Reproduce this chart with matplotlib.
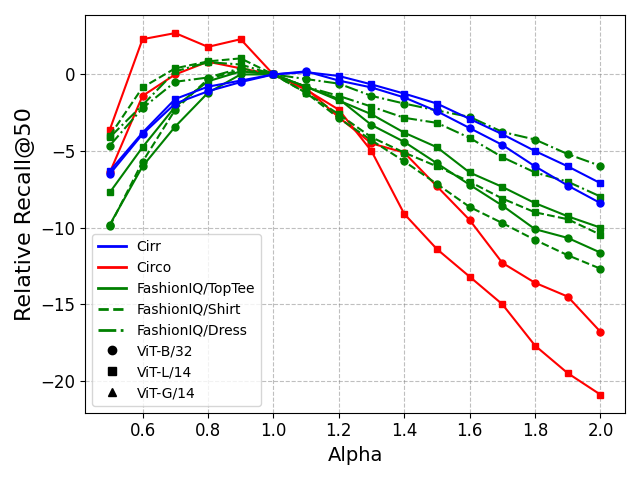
import numpy as np
import matplotlib.pyplot as plt
from matplotlib.lines import Line2D

alpha = [0.5, 0.6, 0.7, 0.8, 0.9, 1.0, 1.1, 1.2, 1.3, 1.4, 1.5, 1.6, 1.7, 1.8, 1.9, 2.0]

# relative recall@50 per dataset and backbone
cirr_b32 = [-6.5, -3.9, -1.9, -1.1, -0.5, 0.0, 0.2, -0.4, -0.85, -1.5, -2.4, -3.5, -4.6, -6.0, -7.25, -8.4]
cirr_l14 = [-6.3, -3.8, -1.6, -0.8, -0.4, 0.0, 0.15, -0.1, -0.65, -1.25, -1.9, -2.9, -3.9, -5.0, -6.0, -7.1]
circo_b32 = [-6.4, -1.4, 0.0, 0.83, 0.4, 0.0, -0.9, -2.8, -4.5, -5.1, -7.3, -9.5, -12.3, -13.6, -14.5, -16.8]
circo_l14 = [-3.6, 2.3, 2.7, 1.8, 2.3, 0.0, -1.0, -2.3, -5.0, -9.1, -11.4, -13.2, -15.0, -17.7, -19.5, -20.9]
toptee_b32 = [-9.8, -6.0, -3.4, -1.2, 0.0, 0.0, -0.8, -1.6, -3.3, -4.4, -5.8, -7.2, -8.56, -10.1, -10.67, -11.63]
toptee_l14 = [-7.7, -4.75, -2.1, -0.45, 0.2, 0.0, -0.8, -1.7, -2.6, -3.8, -4.75, -6.4, -7.34, -8.4, -9.26, -10.0]
shirt_b32 = [-9.9, -5.7, -2.3, -0.3, 0.3, 0.0, -1.2, -2.85, -4.3, -5.67, -7.15, -8.65, -9.7, -10.8, -11.8, -12.68]
shirt_l14 = [-4.0, -0.85, 0.4, 0.85, 1.05, 0.0, -1.2, -2.6, -4.1, -5.1, -6.0, -7.0, -8.1, -9.0, -9.45, -10.46]
dress_b32 = [-4.64, -2.2, -0.48, -0.2, 0.4, 0.0, -0.3, -0.6, -1.4, -1.9, -2.35, -2.77, -3.75, -4.25, -5.2, -5.97]
dress_l14 = [-4.1, -2.0, 0.2, 0.8, 0.65, 0.0, -0.8, -1.4, -2.1, -2.83, -3.16, -4.14, -5.4, -6.4, -7.0, -7.97]

# drawing order: circo at the bottom, then fashioniq, cirr on top
series = [
    (circo_l14, 'red', '-', 's'),
    (circo_b32, 'red', '-', 'o'),
    (toptee_l14, 'green', '-', 's'),
    (toptee_b32, 'green', '-', 'o'),
    (shirt_l14, 'green', '--', 's'),
    (shirt_b32, 'green', '--', 'o'),
    (dress_l14, 'green', '-.', 's'),
    (dress_b32, 'green', '-.', 'o'),
    (cirr_l14, 'blue', '-', 's'),
    (cirr_b32, 'blue', '-', 'o'),
]

fig, ax = plt.subplots(figsize=(6.4, 4.8), dpi=100)

for vals, col, ls, mk in series:
    ax.plot(alpha, vals, color=col, linestyle=ls, marker=mk, markersize=5, linewidth=1.5)

ax.grid(True, linestyle='--', color='gray', alpha=0.5)
ax.set_xlabel('Alpha', fontsize=14)
ax.set_ylabel('Relative Recall@50', fontsize=16)
ax.tick_params(labelsize=12)

handles = [
    Line2D([0], [0], color='blue', lw=2, label='Cirr'),
    Line2D([0], [0], color='red', lw=2, label='Circo'),
    Line2D([0], [0], color='green', lw=2, label='FashionIQ/TopTee'),
    Line2D([0], [0], color='green', lw=2, ls='--', label='FashionIQ/Shirt'),
    Line2D([0], [0], color='green', lw=2, ls='-.', label='FashionIQ/Dress'),
    Line2D([0], [0], color='black', ls='', marker='o', label='ViT-B/32'),
    Line2D([0], [0], color='black', ls='', marker='s', label='ViT-L/14'),
    Line2D([0], [0], color='black', ls='', marker='^', label='ViT-G/14'),
]
ax.legend(handles=handles, loc='lower left', fontsize=10)

plt.tight_layout()
plt.savefig('out.png')
